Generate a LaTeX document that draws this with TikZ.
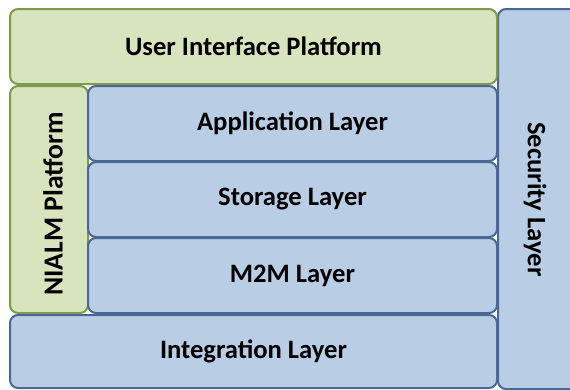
\documentclass[tikz,border=0pt]{standalone}
\usepackage{fontspec}
\setmainfont{Carlito}

\definecolor{greenfill}{HTML}{D7E4BD}
\definecolor{greenline}{HTML}{7E9A4A}
\definecolor{bluefill}{HTML}{B9CDE5}
\definecolor{blueline}{HTML}{4A6896}

\begin{document}
\begin{tikzpicture}[x=1pt, y=-1pt]
	\tikzstyle{layer} = [
		rectangle, rounded corners=8pt, line width=2pt, inner sep=0pt,
		font=\fontsize{26.6}{30}\selectfont\bfseries
	]
	\tikzstyle{platform} = [
		layer, draw=greenline, fill=greenfill
	]
	\tikzstyle{stack} = [
		layer, draw=blueline, fill=bluefill
	]
	\tikzstyle{wide} = [
		minimum width=487pt, minimum height=75pt
	]
	\tikzstyle{inner} = [
		minimum width=409pt, minimum height=75pt
	]
	\tikzstyle{sideways} = [
		font=\fontsize{26.6}{30}\selectfont\bfseries
	]

	\useasboundingbox (0,0) rectangle (570,389);
	\clip (0,0) rectangle (570,389);

	% Security (right column, runs past the right edge)
	\node (Security) [stack, minimum width=90pt, minimum height=380pt] at (543,199) {}
		node [sideways, rotate=-90] at (535,199.5) {Security Layer}
	;

	% User Interface (top)
	\node (UserInterface) [platform, wide] at (253.5,46.5) {User Interface Platform};

	% NIALM (left column)
	\node (NIALM) [platform, minimum width=78pt, minimum height=227pt] at (49,199.5) {}
		node [sideways, rotate=90, font=\fontsize{27.6}{30}\selectfont\bfseries] at (53,204) {NIALM Platform}
	;

	% middle stack
	\node (Application) [stack, inner] at (292.5,123.5) {Application Layer};
	\node (Storage) [stack, inner] at (292.5,199.5) {Storage Layer};
	\node (MtoM) [stack, inner] at (292.5,275.5) {M2M Layer};

	% Integration (bottom)
	\node (Integration) [stack, wide, minimum height=73pt] at (253.5,351.5) {Integration Layer};

\end{tikzpicture}
\end{document}
